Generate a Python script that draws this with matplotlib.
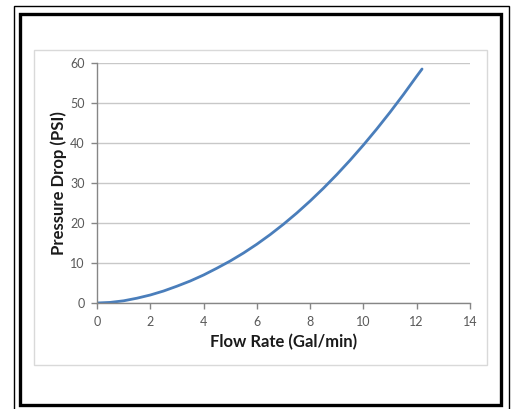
import matplotlib
matplotlib.use("Agg")
import matplotlib.pyplot as plt
from matplotlib.patches import Rectangle

# flow rate vs pressure drop
flow = [0, 0.5, 1, 1.5, 2, 2.5, 3, 3.5, 4, 4.5, 5, 5.5, 6, 6.5, 7, 7.5,
        8, 8.5, 9, 9.5, 10, 10.5, 11, 11.5, 12, 12.2]
pressure = [0, 0.15, 0.55, 1.2, 2.0, 3.0, 4.2, 5.5, 7.0, 8.7, 10.5, 12.5,
            14.7, 17.1, 19.7, 22.5, 25.5, 28.7, 32.1, 35.7, 39.5, 43.5,
            47.7, 52.1, 56.7, 58.5]

x_ticks = [0, 2, 4, 6, 8, 10, 12, 14]
y_ticks = [0, 10, 20, 30, 40, 50, 60]

W, H = 514, 409
plt.rcParams['font.family'] = ['Lato', 'DejaVu Sans']

fig = plt.figure(figsize=(W / 100, H / 100), dpi=100)
fig.patch.set_facecolor('white')


def px_rect(x0, y0, x1, y1, **kw):
    # rectangle given in image pixels (y down)
    r = Rectangle((x0 / W, 1 - y1 / H), (x1 - x0) / W, (y1 - y0) / H,
                  transform=fig.transFigure, fill=False, **kw)
    fig.add_artist(r)


px_rect(13.5, 5.5, 508.5, 412, edgecolor='black', linewidth=1.0)
px_rect(20, 13.5, 500.5, 405, edgecolor='black', linewidth=2.4)
px_rect(34, 50, 487, 365, edgecolor='#d9d9d9', linewidth=1.0)

ax = fig.add_axes([97 / W, 1 - 303 / H, (470 - 97) / W, (303 - 63) / H])
ax.plot(flow, pressure, color='#4a7ebb', linewidth=2.0,
        solid_capstyle='round', solid_joinstyle='round')

ax.set_xlim(0, 14)
ax.set_ylim(0, 60)
ax.set_xticks(x_ticks)
ax.set_yticks(y_ticks)
ax.tick_params(axis='both', colors='#868686', labelcolor='#595959',
               labelsize=9, length=4, width=1, direction='out')
ax.tick_params(axis='x', pad=5)
ax.tick_params(axis='y', pad=5)
ax.grid(axis='y', color='#c8c8c8', linewidth=1)
ax.set_axisbelow(True)
for s in ['top', 'right']:
    ax.spines[s].set_visible(False)
for s in ['left', 'bottom']:
    ax.spines[s].set_color('#868686')
    ax.spines[s].set_linewidth(1)

ax.set_xlabel('Flow Rate (Gal/min)', fontsize=12, fontweight='bold',
              color='#1a1a1a', labelpad=5)
ax.set_ylabel('Pressure Drop (PSI)', fontsize=12, fontweight='bold',
              color='#1a1a1a', labelpad=2)

fig.savefig('out.png', dpi=100)
